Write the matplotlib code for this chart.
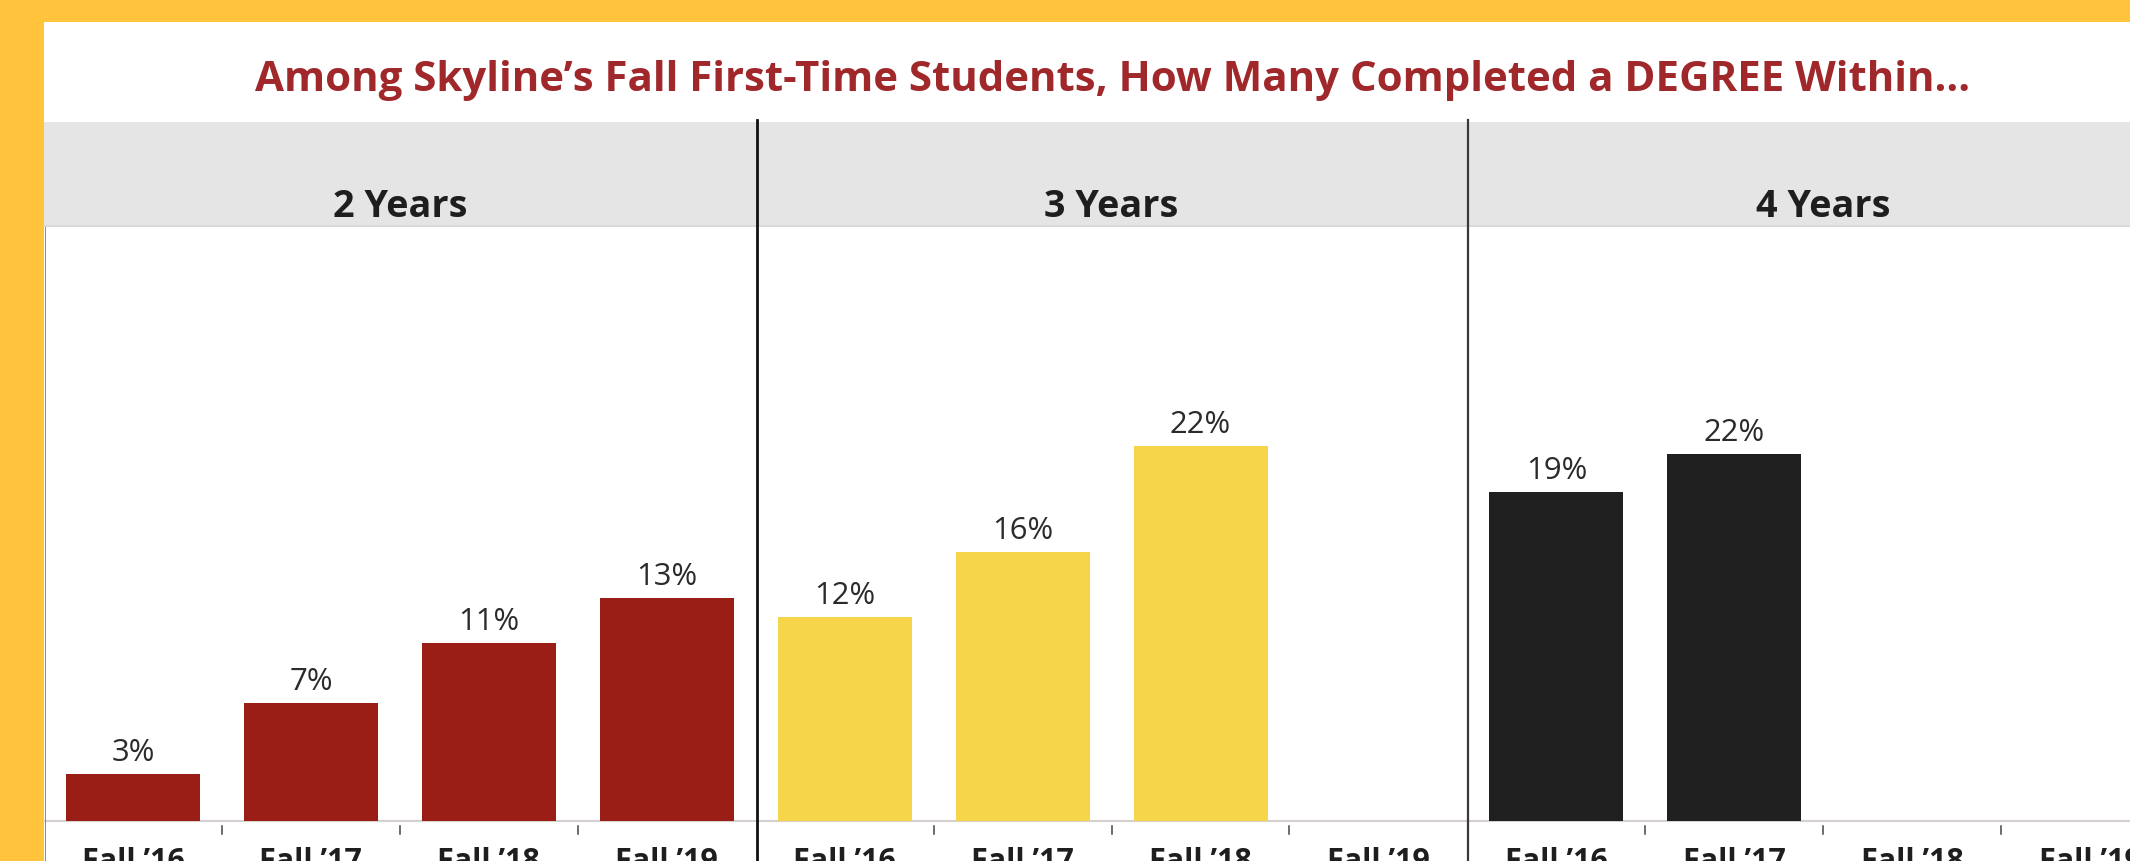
import matplotlib
matplotlib.use("Agg")
import matplotlib.pyplot as plt
import matplotlib.transforms as mtrans
from matplotlib.patches import Rectangle
from matplotlib.lines import Line2D
import numpy as np

plt.rcParams['font.family'] = ['Open Sans', 'DejaVu Sans']

# ---------------- data ----------------
title = "Among Skyline’s Fall First-Time Students, How Many Completed a DEGREE Within..."
panels = ["2 Years", "3 Years", "4 Years"]
cohorts = ["Fall ’16", "Fall ’17", "Fall ’18", "Fall ’19"]
rate_2yr = [2.8, 7.0, 10.51, 13.2]
rate_3yr = [12.1, 15.9, 22.2, np.nan]
rate_4yr = [19.49, 21.7, np.nan, np.nan]
series = [rate_2yr, rate_3yr, rate_4yr]
bar_colors = ["#9b1e16", "#f7d54b", "#202020"]

# ---------------- layout (pixels) ----------------
W, H = 2130, 862
DPI = 100
BORDER = "#ffc43c"
TITLE_COLOR = "#a0282b"


def fx(x):
    return x / W


def fy(y):
    return 1 - y / H


fig = plt.figure(figsize=(W / DPI, H / DPI), dpi=DPI)
fig.patch.set_facecolor(BORDER)
renderer = fig.canvas.get_renderer()


def fit_size(text, target_w, weight):
    t = fig.text(0, 0, text, fontsize=20, fontweight=weight)
    w = t.get_window_extent(renderer).width
    t.remove()
    return 20 * target_w / w


# white card
fig.add_artist(Rectangle((fx(44), 0), 1 - fx(44), fy(23), transform=fig.transFigure,
                         facecolor="white", edgecolor="none", zorder=0))
# header band
fig.add_artist(Rectangle((fx(44), fy(226)), 1 - fx(44), (226 - 123) / H,
                         transform=fig.transFigure, facecolor="#e5e5e5",
                         edgecolor="none", zorder=1))
fig.add_artist(Line2D([fx(44), 1], [fy(226.5)] * 2, transform=fig.transFigure,
                      color="#d2d2d2", lw=1.2, zorder=1.5))

# title
fs_title = fit_size(title, 1719, "bold")
fig.text(fx(1113), fy(91), title, ha="center", va="baseline", fontweight="bold",
         fontsize=fs_title, color=TITLE_COLOR)

fs_head = fit_size("2 Years", 134, "bold")
fs_tick = fit_size("Fall ’16", 103, "bold")
fs_val = fit_size("13%", 61, "normal")

panel_left = 44.0
panel_w = 711.7
ax_top, ax_bot = 228, 822
ax_h = ax_bot - ax_top
px_per_pct = 16.9
ymax = ax_h / px_per_pct

for p, (name, vals, col) in enumerate(zip(panels, series, bar_colors)):
    left = panel_left + p * panel_w
    ax = fig.add_axes([fx(left), fy(ax_bot), panel_w / W, ax_h / H])
    ax.set_xlim(-0.5, 3.5)
    ax.set_ylim(0, ymax)
    ax.axis("off")
    ax.patch.set_alpha(0)
    x = np.arange(len(cohorts))
    ax.bar(x, vals, width=0.753, color=col, zorder=3)
    ax.axhline(0, color="#d6d0d0", lw=1.5, zorder=2, clip_on=False)
    for i, v in enumerate(vals):
        if not np.isnan(v):
            ax.annotate(f"{v:.0f}%", (i, v), xytext=(0, 14 * 72 / DPI),
                        textcoords="offset points", ha="center", va="baseline",
                        fontsize=fs_val, color="#2b2b2b")
    trans = mtrans.blended_transform_factory(ax.transData, ax.transAxes)
    for b in [0.5, 1.5, 2.5]:
        ax.plot([b, b], [-5 / ax_h, -13 / ax_h], transform=trans, color="#444444",
                lw=1.1, clip_on=False)
    for i, lab in enumerate(cohorts):
        ax.text(i, -25 / ax_h, lab, transform=trans, ha="center", va="top",
                fontweight="bold", fontsize=fs_tick, color="#1e1e1e", clip_on=False)
    fig.text(fx(left + panel_w / 2), fy(217), name, ha="center", va="baseline",
             fontweight="bold", fontsize=fs_head, color="#1e1e1e")

# dividers
fig.add_artist(Line2D([fx(757)] * 2, [fy(121), 0], transform=fig.transFigure,
                      color="#111111", lw=2.0, zorder=5))
fig.add_artist(Line2D([fx(1468)] * 2, [fy(121), 0], transform=fig.transFigure,
                      color="#3a3a3a", lw=1.6, zorder=5))
# left edge of card
fig.add_artist(Line2D([fx(44.5)] * 2, [fy(228), 0], transform=fig.transFigure,
                      color="#888888", lw=0.7, zorder=5))

fig.savefig("out.png", dpi=DPI, facecolor=fig.get_facecolor())
